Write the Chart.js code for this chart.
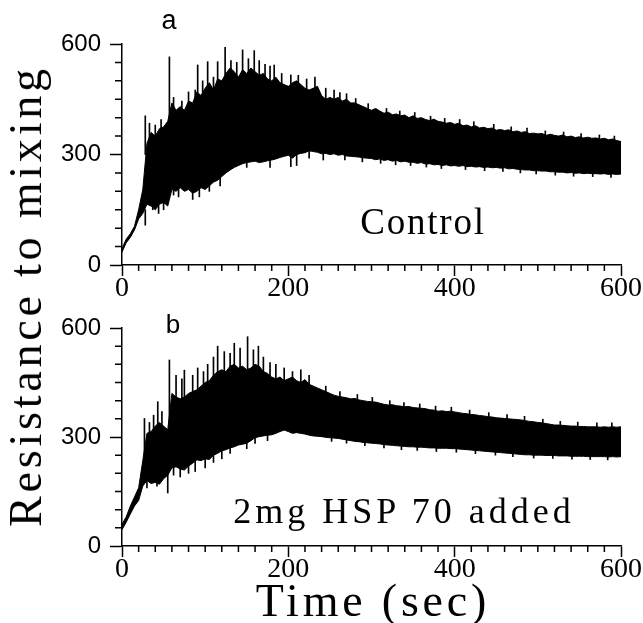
<!DOCTYPE html>
<html>
<head>
<meta charset="utf-8">
<script src="https://cdn.jsdelivr.net/npm/chart.js@4/dist/chart.umd.min.js"></script>
<style>
  body { margin: 0; background: #fff; }
  #page { position: relative; width: 643px; height: 623px; overflow: hidden; background: #fff; }
  #canvasA { position: absolute; left: 0; top: 0; }
  #canvasB { position: absolute; left: 0; top: 300px; }
  .txt { position: absolute; color: #000; white-space: pre; line-height: 1; transform: translate(-50%, -50%); }
  .serif { font-family: "Liberation Serif", "Times New Roman", serif; }
  .sans { font-family: "Liberation Sans", Arial, sans-serif; }
</style>
</head>
<body>
<div id="page">
  <canvas id="canvasA" width="643" height="318"></canvas>
  <canvas id="canvasB" width="643" height="323"></canvas>
  <div class="txt sans" style="left:169px; top:20px; font-size:27px;">a</div>
  <div class="txt sans" style="left:173px; top:324px; font-size:26px;">b</div>
  <div class="txt serif" style="left:423px; top:221px; font-size:37px; letter-spacing:1.8px;">Control</div>
  <div class="txt serif" style="left:404px; top:511px; font-size:36px; letter-spacing:4px;">2mg HSP 70 added</div>
  <div class="txt serif" style="left:373px; top:601px; font-size:46px; letter-spacing:3.8px;">Time (sec)</div>
  <div class="txt serif" style="left:26px; top:296px; font-size:46px; letter-spacing:3.8px; transform:translate(-50%, -50%) rotate(-90deg);">Resistance to mixing</div>
</div>
<script>
// sample times (sec), one every 5 s from 0 to 600
const times = Array.from({ length: 121 }, (_, i) => i * 5);

const xTickValues = [0, 200, 400, 600];
const yTickValues = [0, 300, 600];
const xMinorStep = 20;
const yMinorStep = 50;

// --- panel a: Control ---
const upperA = [45, 70, 85, 105, 150, 205, 330, 360, 350, 370,
  375, 390, 440, 420, 430, 420, 445, 440, 470, 460,
  480, 495, 475, 505, 500, 520, 535, 525, 510, 530,
  520, 535, 525, 515, 520, 505, 500, 510, 495, 490,
  485, 495, 500, 490, 480, 475, 480, 485, 460, 450,
  455, 450, 455, 445, 450, 440, 440, 435, 430, 425,
  420, 425, 418, 412, 415, 408, 410, 405, 407, 400,
  405, 398, 400, 395, 392, 396, 390, 388, 385, 387,
  382, 385, 378, 380, 375, 378, 372, 374, 370, 372,
  366, 368, 365, 367, 362, 364, 360, 362, 357, 358,
  356, 357, 352, 355, 352, 350, 353, 348, 350, 346,
  348, 345, 347, 344, 345, 342, 344, 340, 342, 338,
  335];
const lowerA = [35, 60, 75, 95, 125, 140, 165, 160, 150, 165,
  170, 160, 205, 200, 210, 200, 205, 195, 200, 210,
  205, 215, 225, 230, 240, 250, 258, 265, 270, 275,
  278, 280, 282, 278, 280, 283, 285, 288, 292, 295,
  298, 290, 300, 303, 305, 310, 308, 306, 302, 303,
  300, 302, 298, 300, 296, 295, 294, 293, 291, 290,
  289, 286, 288, 284, 286, 282, 284, 280, 282, 279,
  279, 276, 278, 274, 275, 272, 273, 270, 272, 269,
  270, 268, 270, 267, 268, 266, 267, 265, 266, 264,
  265, 263, 264, 261, 262, 260, 259, 258, 258, 256,
  256, 255, 255, 253, 253, 252, 252, 250, 251, 249,
  250, 248, 249, 248, 248, 247, 248, 246, 247, 246,
  247];
// single excursions above / below the dense band
const spikeTimesA = [28, 33, 40, 47, 57, 62, 72, 80, 88, 91, 97, 103, 110, 115, 124, 131, 138, 145, 152, 159,
  165, 172, 178, 183, 192, 203, 212, 222, 232, 245, 255, 270,
  262, 281, 296, 318, 334, 352, 371, 388, 406, 423, 447, 468, 487, 509, 531, 552, 574, 592,
  28, 37, 44, 50, 62, 68, 85, 93, 105, 118, 150, 178, 203, 210, 225, 242,
  268, 289, 311, 329, 347, 366, 384, 413, 436, 458, 479, 498, 521, 543, 566, 588];
const spikeLowA = [300, 330, 330, 350, 380, 420, 410, 420, 430, 450, 440, 460, 460, 480, 490, 500, 500, 500, 500, 500,
  500, 500, 490, 480, 480, 470, 470, 460, 460, 440, 440, 430,
  435, 420, 405, 392, 385, 382, 372, 366, 364, 357, 350, 343, 340, 333, 330, 326, 322, 320,
  108, 150, 140, 150, 190, 185, 178, 185, 200, 215, 265, 265, 267, 270, 290, 285,
  285, 280, 276, 272, 270, 266, 262, 259, 256, 254, 250, 247, 244, 241, 240, 238];
const spikeHighA = [405, 385, 380, 395, 565, 455, 445, 470, 475, 543, 500, 552, 510, 552, 591, 555, 550, 584, 560, 582,
  555, 545, 540, 543, 520, 516, 515, 505, 510, 480, 475, 465,
  468, 452, 438, 425, 418, 414, 404, 398, 395, 389, 382, 375, 372, 364, 361, 357, 353, 350,
  150, 180, 170, 180, 230, 220, 210, 215, 230, 240, 290, 300, 300, 310, 320, 310,
  316, 311, 307, 303, 300, 296, 291, 289, 286, 283, 279, 276, 273, 270, 268, 266];

// --- panel b: 2mg HSP 70 added ---
const upperB = [60, 80, 110, 135, 160, 235, 310, 315, 330, 340,
  330, 320, 420, 410, 405, 410, 420, 425, 430, 440,
  450, 455, 470, 480, 485, 480, 495, 500, 490, 495,
  485, 490, 500, 495, 480, 475, 465, 460, 465, 455,
  460, 465, 455, 450, 458, 445, 440, 435, 430, 425,
  420, 415, 412, 410, 408, 405, 406, 402, 400, 398,
  397, 396, 393, 390, 388, 389, 386, 385, 383, 384,
  381, 380, 379, 378, 375, 374, 371, 372, 370, 371,
  369, 367, 365, 364, 362, 361, 359, 358, 356, 355,
  353, 352, 351, 350, 349, 348, 347, 345, 343, 342,
  340, 339, 337, 335, 333, 333, 332, 331, 330, 330,
  329, 329, 328, 328, 328, 327, 328, 327, 328, 327,
  328];
const lowerB = [45, 65, 88, 110, 125, 165, 180, 172, 175, 170,
  185, 195, 215, 218, 212, 209, 220, 228, 237, 235,
  240, 238, 250, 255, 262, 265, 270, 273, 278, 280,
  283, 290, 298, 301, 303, 305, 306, 310, 315, 319,
  315, 310, 312, 310, 308, 305, 303, 302, 301, 299,
  298, 297, 296, 294, 292, 290, 288, 287, 285, 284,
  283, 282, 281, 279, 278, 277, 276, 275, 274, 273,
  273, 272, 272, 271, 270, 270, 269, 269, 269, 268,
  268, 267, 266, 265, 264, 263, 262, 261, 260, 259,
  258, 257, 256, 255, 254, 253, 252, 251, 251, 250,
  250, 250, 249, 249, 249, 248, 248, 248, 247, 247,
  247, 247, 246, 246, 246, 246, 246, 245, 246, 245,
  246];
const spikeTimesB = [27, 33, 38, 43, 48, 57, 65, 72, 75, 85, 91, 98, 103, 110, 115, 123, 130, 135, 142, 151,
  158, 164, 170, 178, 185, 195, 205, 215, 225,
  245, 262, 283, 301, 322, 339, 358, 377, 396, 418, 441, 463, 484, 506, 527, 548, 571, 589,
  30, 42, 55, 62, 70, 80, 88, 100, 110, 120, 130, 150, 160, 175,
  252, 270, 292, 315, 336, 355, 378, 402, 425, 449, 470, 495, 518, 541, 563, 584];
const spikeLowB = [230, 300, 300, 320, 320, 300, 400, 400, 400, 410, 420, 430, 440, 460, 470, 470, 480, 480, 480, 480,
  480, 480, 470, 460, 450, 450, 450, 440, 440,
  405, 392, 385, 377, 369, 364, 360, 353, 350, 342, 336, 331, 326, 318, 312, 310, 308, 308,
  160, 165, 146, 195, 190, 200, 205, 215, 230, 240, 255, 268, 282, 290,
  288, 283, 276, 270, 265, 263, 260, 258, 254, 250, 246, 242, 241, 239, 238, 237];
const spikeHighB = [351, 340, 360, 397, 370, 512, 470, 460, 484, 470, 490, 480, 500, 520, 550, 535, 530, 558, 545, 576,
  540, 550, 520, 505, 500, 490, 480, 485, 470,
  440, 425, 417, 409, 400, 395, 391, 385, 382, 374, 367, 362, 357, 349, 343, 341, 339, 339,
  190, 190, 200, 230, 220, 230, 240, 245, 260, 270, 280, 290, 305, 310,
  317, 312, 305, 299, 294, 292, 289, 288, 283, 279, 274, 270, 269, 267, 266, 265];

// short tick marks between the labelled ones
const minorTicks = {
  id: 'minorTicks',
  afterDraw(chart) {
    const { ctx, scales: { x, y } } = chart;
    ctx.save();
    ctx.strokeStyle = '#000';
    ctx.lineWidth = 1.5;
    ctx.beginPath();
    for (let v = x.min; v <= x.max; v += xMinorStep) {
      if (xTickValues.includes(v)) continue;
      const px = x.getPixelForValue(v);
      ctx.moveTo(px, x.top);
      ctx.lineTo(px, x.top + 6);
    }
    for (let v = y.min; v <= y.max; v += yMinorStep) {
      if (yTickValues.includes(v)) continue;
      const py = y.getPixelForValue(v);
      ctx.moveTo(y.right, py);
      ctx.lineTo(y.right - 7, py);
    }
    ctx.stroke();
    ctx.restore();
  }
};

function buildPanel(canvasId, upper, lower, spikeTimes, spikeLow, spikeHigh, padTop, xAxisHeight) {
  const toPoints = arr => arr.map((v, i) => ({ x: times[i], y: v }));
  const spikes = spikeTimes.map((t, i) => ({ x: t, y: [spikeLow[i], spikeHigh[i]] }));

  return new Chart(document.getElementById(canvasId), {
    type: 'line',
    data: {
      datasets: [
        {
          data: toPoints(lower),
          borderColor: '#000',
          borderWidth: 1,
          pointRadius: 0,
          fill: false
        },
        {
          data: toPoints(upper),
          borderColor: '#000',
          borderWidth: 1,
          pointRadius: 0,
          backgroundColor: '#000',
          fill: '-1'
        },
        {
          type: 'bar',
          data: spikes,
          backgroundColor: '#000',
          borderWidth: 0,
          barThickness: 1
        }
      ]
    },
    options: {
      responsive: false,
      animation: false,
      events: [],
      layout: { padding: { top: padTop, right: 22, bottom: 0, left: 0 } },
      plugins: { legend: { display: false }, tooltip: { enabled: false } },
      scales: {
        x: {
          type: 'linear',
          min: 0,
          max: 600,
          offset: false,
          afterBuildTicks: scale => { scale.ticks = xTickValues.map(v => ({ value: v })); },
          afterFit: scale => { scale.height = xAxisHeight; },
          ticks: {
            color: '#000',
            padding: -4,
            maxRotation: 0,
            font: { family: 'Liberation Serif', size: 28 }
          },
          grid: { offset: false, drawOnChartArea: false, tickLength: 11, tickWidth: 1.5, tickColor: '#000' },
          border: { display: true, color: '#000', width: 1.5 }
        },
        y: {
          min: 0,
          max: 600,
          afterBuildTicks: scale => { scale.ticks = yTickValues.map(v => ({ value: v })); },
          afterFit: scale => { scale.width = 122; },
          ticks: {
            color: '#000',
            padding: 9,
            font: { family: 'Liberation Sans', size: 24 }
          },
          grid: { offset: false, drawOnChartArea: false, tickLength: 12, tickWidth: 1.5, tickColor: '#000' },
          border: { display: true, color: '#000', width: 1.5 }
        }
      }
    },
    plugins: [minorTicks]
  });
}

buildPanel('canvasA', upperA, lowerA, spikeTimesA, spikeLowA, spikeHighA, 44, 53);
buildPanel('canvasB', upperB, lowerB, spikeTimesB, spikeLowB, spikeHighB, 28, 77);
</script>
</body>
</html>
